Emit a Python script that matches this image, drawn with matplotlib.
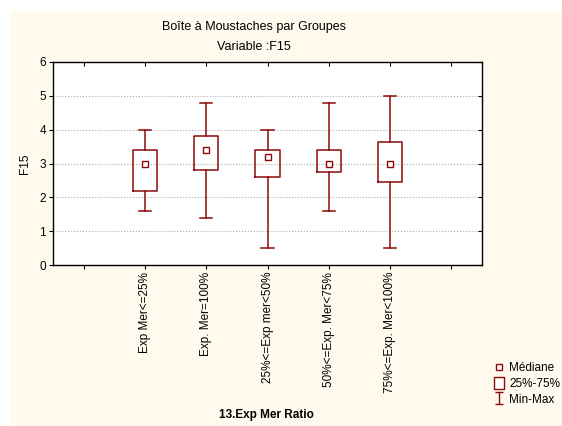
import matplotlib
matplotlib.use('Agg')
import matplotlib.pyplot as plt
from matplotlib.lines import Line2D
from matplotlib.path import Path
from matplotlib.patches import Rectangle

plt.rcParams['font.family'] = ['Liberation Sans', 'DejaVu Sans']

groups = ['Exp Mer<=25%', 'Exp. Mer=100%', '25%<=Exp mer<50%',
          '50%<=Exp. Mer<75%', '75%<=Exp. Mer<100%']
mins = [1.6, 1.4, 0.5, 1.6, 0.5]
q1s = [2.2, 2.8, 2.6, 2.75, 2.45]
meds = [3.0, 3.4, 3.2, 3.0, 3.0]
q3s = [3.4, 3.8, 3.4, 3.4, 3.65]
maxs = [4.0, 4.8, 4.0, 4.8, 5.0]

col = '#8b0a0a'
cream = '#fff9ee'

fig = plt.figure(figsize=(5.62, 4.26), dpi=100)
fig.patches.append(Rectangle((11 / 562, 0), 1, 1 - 11 / 426, transform=fig.transFigure,
                             facecolor=cream, edgecolor='none', zorder=-10))
ax = fig.add_axes([53 / 562, 1 - 265 / 426, 429 / 562, 203 / 426])
ax.set_facecolor('white')

stats = []
for i in range(len(groups)):
    stats.append(dict(med=meds[i], mean=meds[i], q1=q1s[i], q3=q3s[i],
                      whislo=mins[i], whishi=maxs[i], fliers=[]))

pos = list(range(1, len(groups) + 1))
lw = 1.1
ax.bxp(stats, positions=pos, widths=0.4, capwidths=0.2, showfliers=False,
       showmeans=True, meanline=False,
       boxprops=dict(color=col, linewidth=lw),
       whiskerprops=dict(color=col, linewidth=lw),
       capprops=dict(color=col, linewidth=lw),
       medianprops=dict(linestyle='none'),
       meanprops=dict(marker='s', markerfacecolor='white', markeredgecolor=col,
                      markersize=4, markeredgewidth=1.0))

ax.set_xlim(-0.5, 6.5)
ax.set_ylim(0, 6)
ax.set_xticks(range(0, 7))
ax.set_xticklabels([''] + groups + [''], rotation=90, fontsize=8.5)
ax.set_yticks(range(0, 7))
ax.tick_params(axis='y', labelsize=8.5, length=3, width=0.8, pad=2)
ax.tick_params(axis='x', length=3, width=0.8, pad=2)
ax.tick_params(top=True, right=True, which='both')
for t in ax.xaxis.get_major_ticks():
    t.tick2line.set_marker(3)
for t in ax.yaxis.get_major_ticks():
    t.tick2line.set_marker(0)
for s in ax.spines.values():
    s.set_linewidth(1.0)
ax.set_axisbelow(True)
ax.yaxis.grid(True, linestyle=':', color='#aaaaaa', linewidth=0.8)

ax.set_ylabel('F15', fontsize=8.5, labelpad=6)
fig.text(266 / 562, 1 - 415 / 426, '13.Exp Mer Ratio', ha='center', va='center',
         fontsize=8.5, fontweight='bold')
fig.text(254 / 562, 1 - 27 / 426, 'Boîte à Moustaches par Groupes', ha='center',
         va='center', fontsize=9)
fig.text(254 / 562, 1 - 47 / 426, 'Variable :F15', ha='center', va='center', fontsize=9)

ibeam = Path([(-0.35, -0.5), (0.35, -0.5), (0, -0.5), (0, 0.5), (-0.35, 0.5), (0.35, 0.5)],
             [Path.MOVETO, Path.LINETO, Path.MOVETO, Path.LINETO, Path.MOVETO, Path.LINETO])
boxm = Path([(-0.38, -0.5), (0.38, -0.5), (0.38, 0.5), (-0.38, 0.5), (-0.38, -0.5)],
            [Path.MOVETO, Path.LINETO, Path.LINETO, Path.LINETO, Path.CLOSEPOLY])
handles = [
    Line2D([], [], ls='none', marker='s', mfc='white', mec=col, ms=4, mew=1.0),
    Line2D([], [], ls='none', marker=boxm, mfc='white', mec=col, ms=9, mew=1.0),
    Line2D([], [], ls='none', marker=ibeam, color=col, ms=8, mew=1.0),
]
fig.legend(handles, ['Médiane', '25%-75%', 'Min-Max'], loc='center left',
           bbox_to_anchor=(489 / 562, 1 - 384 / 426), frameon=False, fontsize=8.5,
           handlelength=0.7, handletextpad=0.5, labelspacing=0.3, borderpad=0)

fig.savefig('out.png', dpi=100)
